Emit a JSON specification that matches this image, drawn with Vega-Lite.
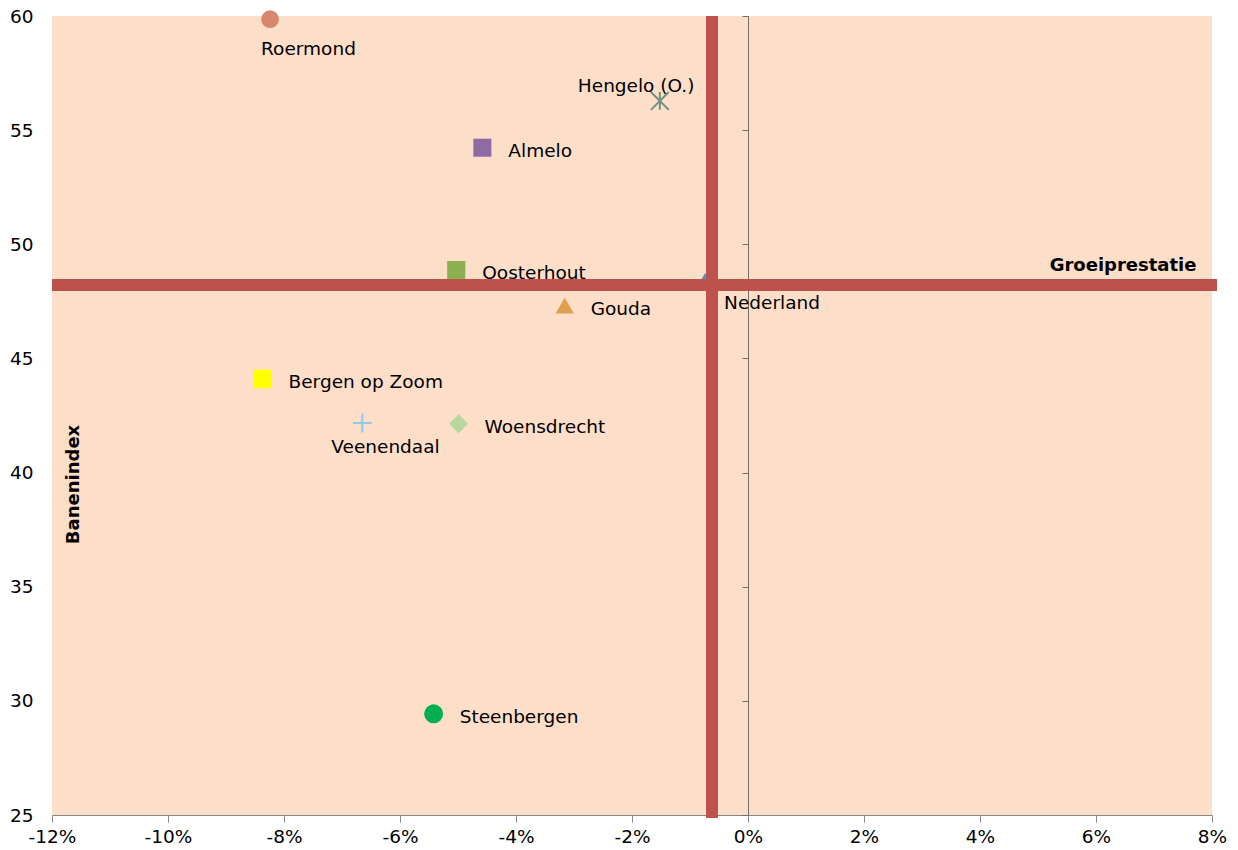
{
  "$schema": "https://vega.github.io/schema/vega-lite/v6.json",
  "width": 1160,
  "height": 799,
  "autosize": {"type": "none"},
  "padding": {"left": 52, "top": 16, "right": 26, "bottom": 35},
  "background": "#ffffff",
  "config": {
    "view": {"fill": "#FDDEC8", "stroke": null},
    "font": "DejaVu Sans",
    "axis": {"grid": false, "labelFont": "DejaVu Sans", "labelFontSize": 18.5, "labelColor": "#000000", "titleFont": "DejaVu Sans", "titleFontSize": 18, "titleFontWeight": "bold", "titleColor": "#000000", "labelOverlap": false}
  },
  "data": {
    "values": [
      {"name": "Roermond", "growth": -8.24, "index": 59.86},
      {"name": "Hengelo (O.)", "growth": -1.52, "index": 56.28},
      {"name": "Almelo", "growth": -4.58, "index": 54.23},
      {"name": "Oosterhout", "growth": -5.03, "index": 48.87},
      {"name": "Gouda", "growth": -3.16, "index": 47.31},
      {"name": "Nederland", "growth": -0.74, "index": 48.39},
      {"name": "Bergen op Zoom", "growth": -8.37, "index": 44.1},
      {"name": "Veenendaal", "growth": -6.65, "index": 42.17},
      {"name": "Woensdrecht", "growth": -4.99, "index": 42.14},
      {"name": "Steenbergen", "growth": -5.42, "index": 29.43}
    ]
  },
  "encoding": {
    "x": {
      "field": "growth", "type": "quantitative",
      "scale": {"domain": [-12, 8], "nice": false, "zero": false},
      "axis": {
        "values": [-12, -10, -8, -6, -4, -2, 0, 2, 4, 6, 8],
        "labelExpr": "datum.value + '%'",
        "labelFlush": false,
        "tickSize": 7, "domainColor": "#868686", "tickColor": "#868686",
        "labelPadding": 5,
        "title": "Groeiprestatie",
        "titleX": 1144, "titleY": -550, "titleAlign": "right", "titleBaseline": "middle", "titleAngle": 0
      }
    },
    "y": {
      "field": "index", "type": "quantitative",
      "scale": {"domain": [25, 60], "nice": false, "zero": false},
      "axis": {
        "orient": "left",
        "offset": -696,
        "values": [25, 30, 35, 40, 45, 50, 55, 60],
        "labelFlush": false,
        "tickSize": 6, "domainColor": "#6E6E6E", "tickColor": "#6E6E6E",
        "labelPadding": 709,
        "title": "Banenindex",
        "titleX": -675, "titleY": 468, "titleAngle": -90, "titleAlign": "center", "titleBaseline": "middle"
      }
    }
  },
  "layer": [
    {
      "transform": [{"filter": {"not": {"field": "name", "oneOf": ["Hengelo (O.)", "Veenendaal"]}}}],
      "mark": {"type": "point", "filled": true, "opacity": 1},
      "encoding": {
        "color": {"field": "name", "type": "nominal", "legend": null,
          "scale": {"domain": ["Roermond","Hengelo (O.)","Almelo","Oosterhout","Gouda","Nederland","Bergen op Zoom","Veenendaal","Woensdrecht","Steenbergen"],
                    "range": ["#D7876B","#6F9283","#8F6AA3","#8CB050","#DDA04F","#35A0C6","#FFFF00","#8CCCEA","#B8D79A","#00B050"]}},
        "shape": {"field": "name", "type": "nominal", "legend": null,
          "scale": {"domain": ["Roermond","Hengelo (O.)","Almelo","Oosterhout","Gouda","Nederland","Bergen op Zoom","Veenendaal","Woensdrecht","Steenbergen"],
                    "range": ["circle","M-1,-1L1,1M-1,1L1,-1M0,-1L0,1","square","square","triangle-up","triangle-up","square","M-1,0L1,0M0,-1L0,1","diamond","circle"]}},
        "size": {"field": "name", "type": "ordinal", "legend": null,
          "scale": {"domain": ["Roermond","Hengelo (O.)","Almelo","Oosterhout","Gouda","Nederland","Bergen op Zoom","Veenendaal","Woensdrecht","Steenbergen"],
                    "range": [314, 361, 400, 400, 441, 441, 400, 361, 441, 254]}}
      }
    },
    {
      "transform": [{"filter": {"field": "name", "oneOf": ["Hengelo (O.)", "Veenendaal"]}}],
      "mark": {"type": "point", "filled": false, "strokeWidth": 2, "opacity": 1},
      "encoding": {
        "color": {"field": "name", "type": "nominal", "legend": null},
        "shape": {"field": "name", "type": "nominal", "legend": null},
        "size": {"field": "name", "type": "ordinal", "legend": null}
      }
    },
    {
      "mark": {"type": "rule", "color": "#BD524D", "strokeWidth": 11, "clip": false},
      "encoding": {"x": {"datum": -0.625}, "y": {"datum": 24.88}, "y2": {"datum": 60}}
    },
    {
      "mark": {"type": "rule", "color": "#BD524D", "strokeWidth": 11, "clip": false},
      "encoding": {"y": {"datum": 48.22}, "x": {"datum": -12}, "x2": {"datum": 8.08}}
    },
    {
      "transform": [{"filter": {"field": "name", "oneOf": ["Almelo", "Oosterhout", "Gouda", "Bergen op Zoom", "Woensdrecht", "Steenbergen"]}}],
      "mark": {"type": "text", "align": "left", "baseline": "middle", "dx": 26, "dy": 3, "fontSize": 18.5, "font": "DejaVu Sans", "color": "#000000"},
      "encoding": {"text": {"field": "name"}}
    },
    {
      "transform": [{"filter": "datum.name == 'Roermond'"}],
      "mark": {"type": "text", "align": "left", "baseline": "middle", "dx": -9, "dy": 30, "fontSize": 18.5, "font": "DejaVu Sans", "color": "#000000"},
      "encoding": {"text": {"field": "name"}}
    },
    {
      "transform": [{"filter": "datum.name == 'Veenendaal'"}],
      "mark": {"type": "text", "align": "left", "baseline": "middle", "dx": -31, "dy": 24, "fontSize": 18.5, "font": "DejaVu Sans", "color": "#000000"},
      "encoding": {"text": {"field": "name"}}
    },
    {
      "transform": [{"filter": "datum.name == 'Nederland'"}],
      "mark": {"type": "text", "align": "left", "baseline": "middle", "dx": 19, "dy": 22, "fontSize": 18.5, "font": "DejaVu Sans", "color": "#000000"},
      "encoding": {"text": {"field": "name"}}
    },
    {
      "transform": [{"filter": "datum.name == 'Hengelo (O.)'"}],
      "mark": {"type": "text", "align": "left", "baseline": "middle", "dx": -82, "dy": -15, "fontSize": 18.5, "font": "DejaVu Sans", "color": "#000000"},
      "encoding": {"text": {"field": "name"}}
    }
  ]
}
